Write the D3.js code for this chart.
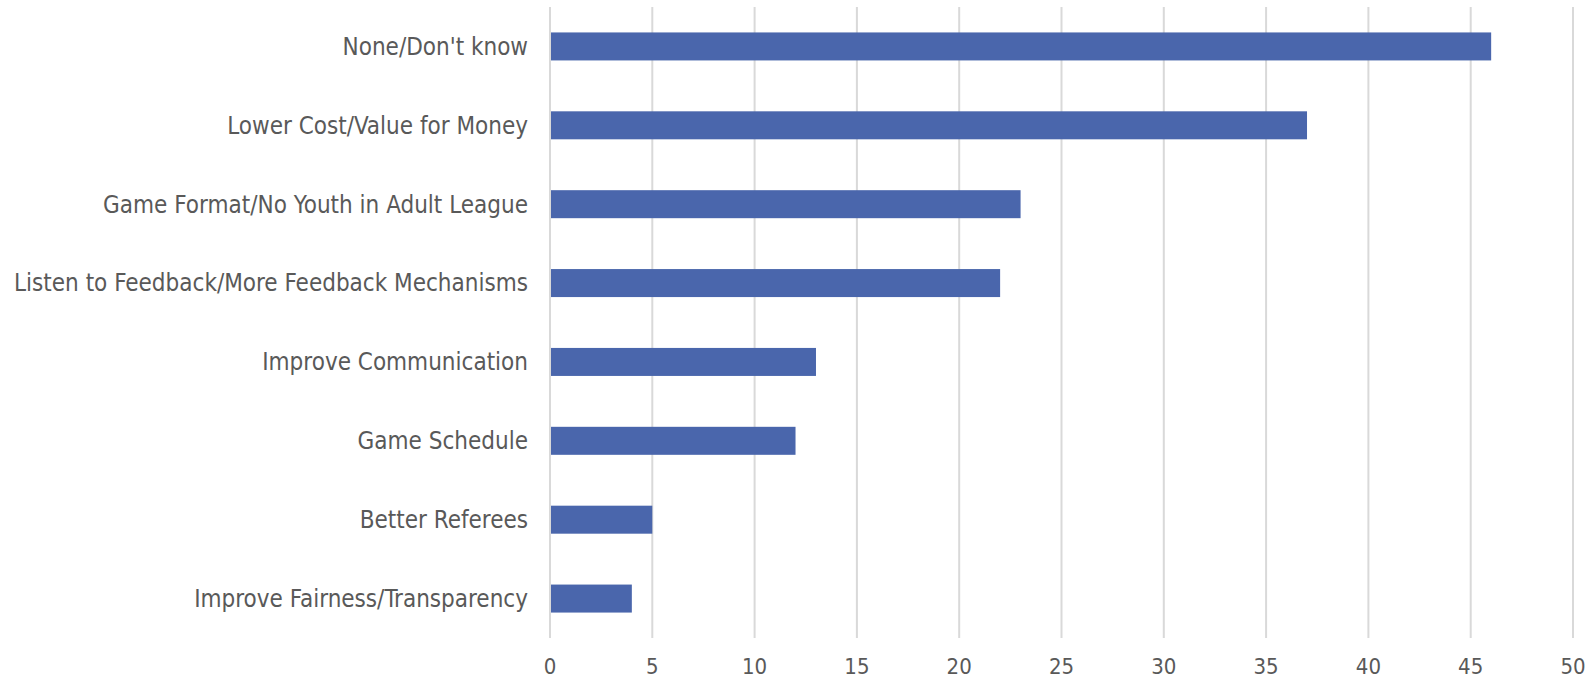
<!DOCTYPE html>
<html>
<head>
<meta charset="utf-8">
<script src="https://cdn.jsdelivr.net/npm/d3@7"></script>
<style>
  body { margin: 0; background: #fff; }
  svg { display: block; }
</style>
</head>
<body>
<svg></svg>
<script>
const categories = [
    "None/Don't know",
    "Lower Cost/Value for Money",
    "Game Format/No Youth in Adult League",
    "Listen to Feedback/More Feedback Mechanisms",
    "Improve Communication",
    "Game Schedule",
    "Better Referees",
    "Improve Fairness/Transparency"
];
const values = [46, 37, 23, 22, 13, 12, 5, 4];
const tickValues = [0, 5, 10, 15, 20, 25, 30, 35, 40, 45, 50];

function drawChart() {
    let margin = {top: 7, right: 16, bottom: 42, left: 550};
    let width = 1589 - margin.left - margin.right;
    let height = 680 - margin.top - margin.bottom;

    let svg = d3.select("svg")
        .attr("width", 1589)
        .attr("height", 680)
        .append("g")
        .attr("transform", "translate(" + margin.left + "," + margin.top + ")");

    let x = d3.scaleLinear().domain([0, 50]).range([0, width]);
    let y = d3.scaleBand().domain(categories).range([0, height]).paddingInner(0.645).paddingOuter(0.3225);

    // vertical gridlines
    svg.append("g").selectAll("line")
        .data(tickValues)
        .join("line")
        .attr("x1", d => x(d))
        .attr("x2", d => x(d))
        .attr("y1", 0)
        .attr("y2", height)
        .attr("stroke", "#d9d9d9")
        .attr("stroke-width", 2);

    // bars
    svg.append("g").selectAll("rect")
        .data(values)
        .join("rect")
        .attr("x", x(0) + 1)
        .attr("y", (d, i) => y(categories[i]))
        .attr("width", d => x(d) - x(0) - 1)
        .attr("height", y.bandwidth())
        .attr("fill", "#4a66ac");

    // category labels
    svg.append("g").selectAll("text")
        .data(categories)
        .join("text")
        .attr("x", -22)
        .attr("y", d => y(d) + y.bandwidth() / 2)
        .attr("dy", "0.35em")
        .attr("text-anchor", "end")
        .attr("font-family", "'DejaVu Sans Condensed', 'DejaVu Sans', sans-serif")
        .attr("font-size", "24px")
        .attr("fill", "#595959")
        .text(d => d);

    // x tick labels
    svg.append("g").selectAll("text")
        .data(tickValues)
        .join("text")
        .attr("x", d => x(d))
        .attr("y", height + 36)
        .attr("text-anchor", "middle")
        .attr("font-family", "'DejaVu Sans Condensed', 'DejaVu Sans', sans-serif")
        .attr("font-size", "22px")
        .attr("fill", "#595959")
        .text(d => d);
}
drawChart();
</script>
</body>
</html>
